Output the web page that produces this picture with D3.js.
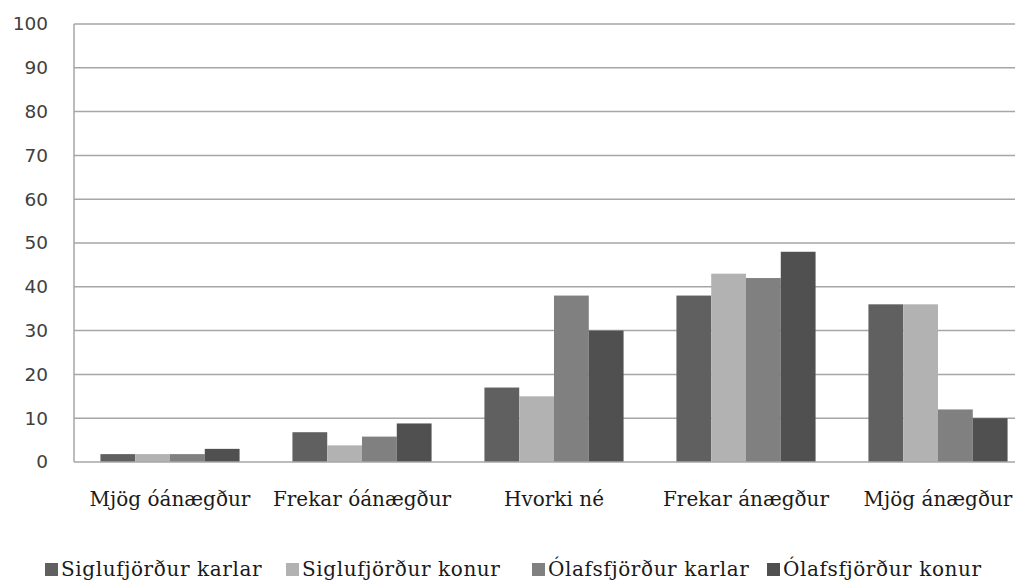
<!DOCTYPE html>
<html><head><meta charset="utf-8">
<script src="https://cdn.jsdelivr.net/npm/d3@7"></script>
<style>body{margin:0;background:#fff}svg{display:block}</style>
</head><body>
<svg id="c" width="1015" height="581"></svg>
<script>
const categories = ["Mjög óánægður","Frekar óánægður","Hvorki né","Frekar ánægður","Mjög ánægður"];
const seriesNames = ["Siglufjörður karlar","Siglufjörður konur","Ólafsfjörður karlar","Ólafsfjörður konur"];
const siglKarlar = [1.8, 6.8, 17, 38, 36];
const siglKonur  = [1.8, 3.8, 15, 43, 36];
const olafKarlar = [1.8, 5.8, 38, 42, 12];
const olafKonur  = [3, 8.8, 30, 48, 10];
const yTicks = [0,10,20,30,40,50,60,70,80,90,100];
const colors = ["#606060","#b2b2b2","#808080","#505050"];

(function(){
const values = [siglKarlar, siglKonur, olafKarlar, olafKonur];
const svg = d3.select("#c");
const pL = 74, pR = 1034, pT = 24, pB = 462;

const x0 = d3.scaleBand().domain(categories).range([pL, pR]).paddingInner(0).paddingOuter(0);
const x1 = d3.scaleBand().domain(seriesNames).range([0, x0.bandwidth()]).paddingInner(0).paddingOuter(0.76);
const y = d3.scaleLinear().domain([0,100]).range([pB, pT]);

svg.append("g").selectAll("line").data(yTicks.filter(t=>t>0)).join("line")
  .attr("x1", pL).attr("x2", 1015)
  .attr("y1", d=>y(d)).attr("y2", d=>y(d))
  .attr("stroke", "#a6a6a6").attr("stroke-width", 1.5);

const g = svg.append("g");
categories.forEach((c, ci) => {
  seriesNames.forEach((s, si) => {
    const v = values[si][ci];
    g.append("rect")
      .attr("x", x0(c) + x1(s))
      .attr("width", x1.bandwidth())
      .attr("y", y(v))
      .attr("height", y(0) - y(v))
      .attr("fill", colors[si]);
  });
});

svg.append("line").attr("x1", pL).attr("x2", pL).attr("y1", pT).attr("y2", pB)
  .attr("stroke", "#a6a6a6").attr("stroke-width", 1.5);
svg.append("line").attr("x1", pL).attr("x2", 1015).attr("y1", pB).attr("y2", pB)
  .attr("stroke", "#a6a6a6").attr("stroke-width", 1.5);

const yAxis = d3.axisLeft(y).tickValues(yTicks).tickSize(0).tickPadding(26);
const ya = svg.append("g").attr("transform", `translate(${pL},0)`).call(yAxis);
ya.select(".domain").remove();
ya.selectAll("text").attr("font-family", "DejaVu Sans").attr("font-size", 18.5).attr("fill", "#404040");

const xAxis = d3.axisBottom(x0).tickSize(0).tickPadding(30);
const xa = svg.append("g").attr("transform", `translate(0,${pB})`).call(xAxis);
xa.select(".domain").remove();
xa.selectAll("text").attr("font-family", "DejaVu Serif").attr("font-size", 20).attr("fill", "#1a1a1a");

const legendX = [45, 286, 532, 767];
const lg = svg.append("g");
seriesNames.forEach((s, i) => {
  lg.append("rect").attr("x", legendX[i]).attr("y", 563).attr("width", 13).attr("height", 13).attr("fill", colors[i]);
  lg.append("text").attr("x", legendX[i] + 16).attr("y", 576)
    .attr("font-family", "DejaVu Serif").attr("font-size", 20).attr("letter-spacing", 0.6)
    .attr("fill", "#1a1a1a").text(s);
});
})();
</script>
</body></html>
